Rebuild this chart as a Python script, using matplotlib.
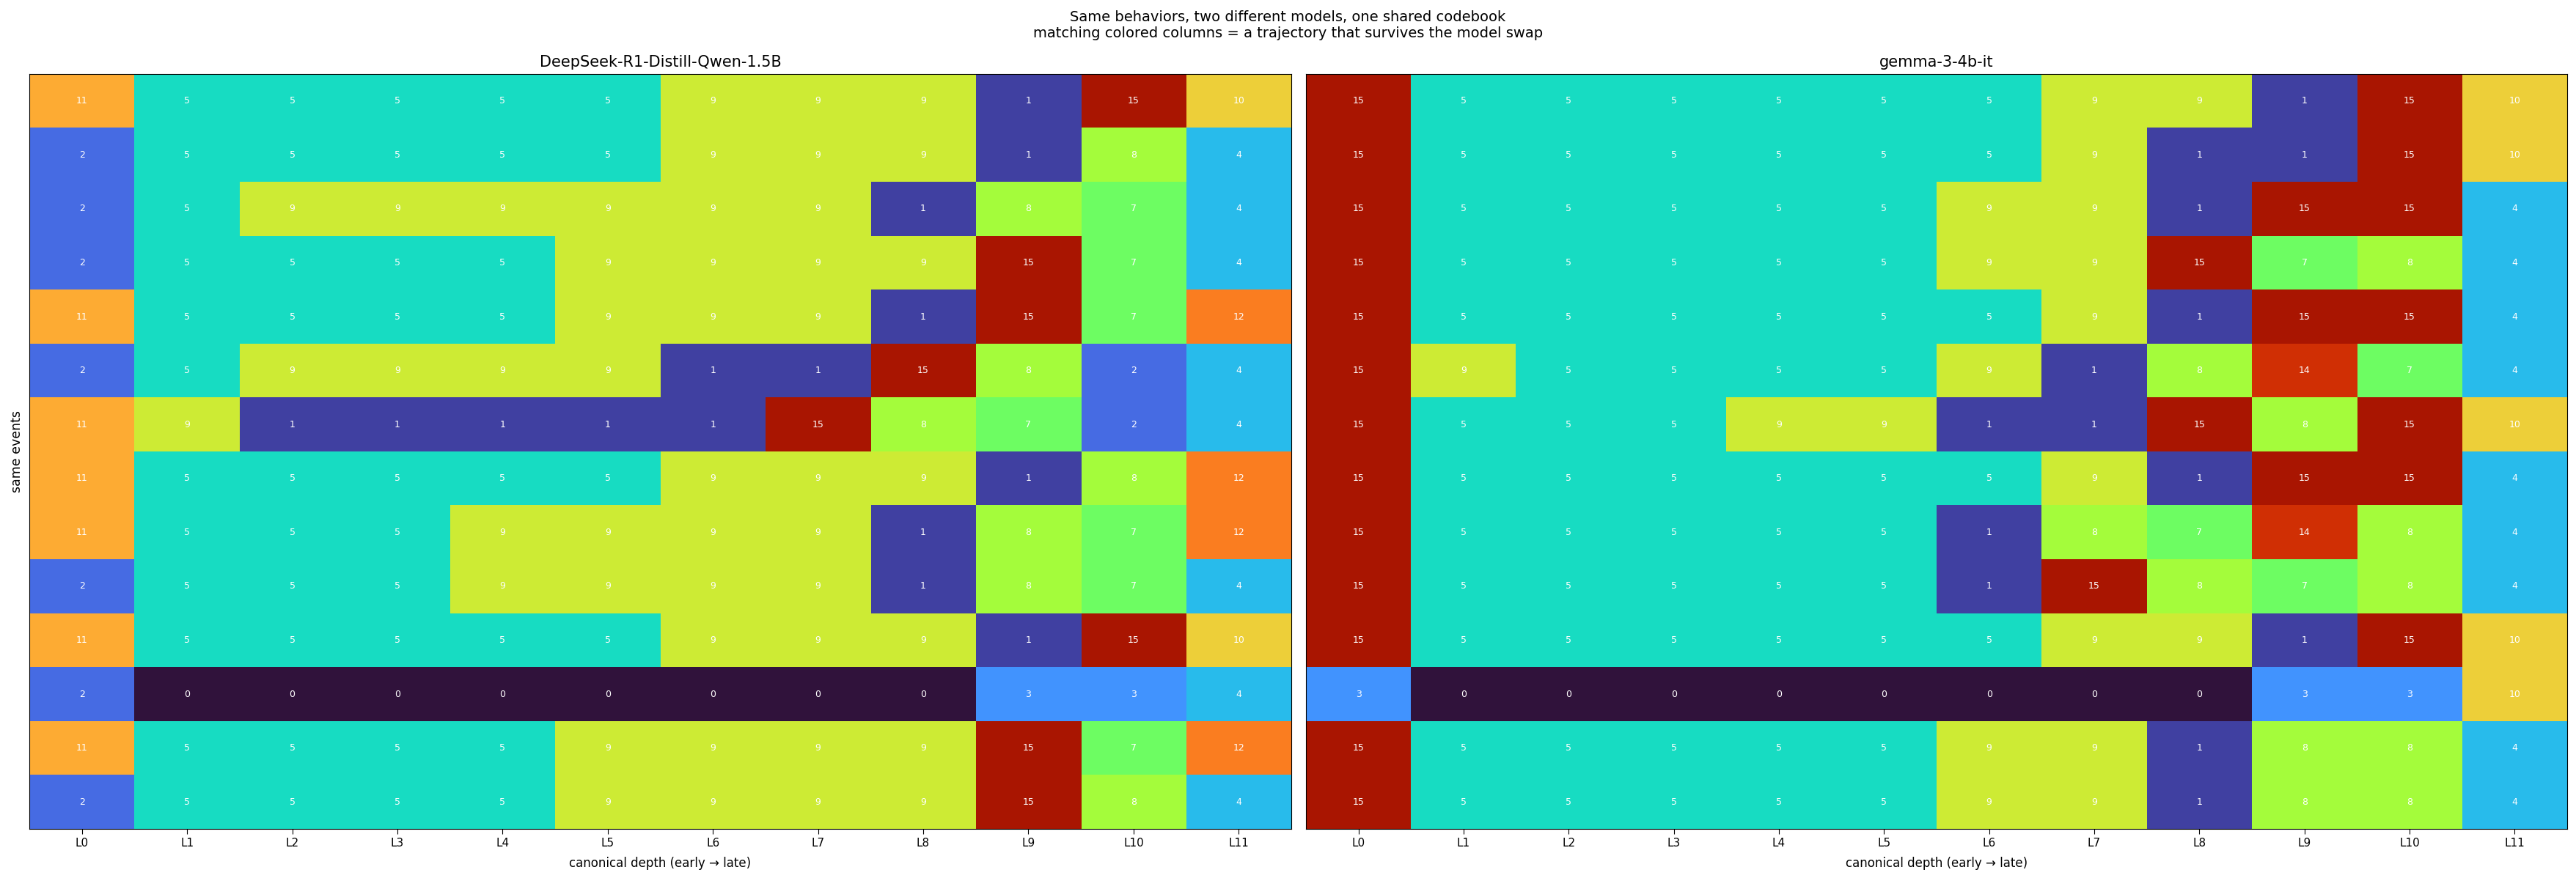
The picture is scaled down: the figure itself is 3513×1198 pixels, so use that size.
import numpy as np
import matplotlib
matplotlib.use("Agg")
import matplotlib.pyplot as plt

layers = ["L0", "L1", "L2", "L3", "L4", "L5", "L6", "L7", "L8", "L9", "L10", "L11"]
model_a = "DeepSeek-R1-Distill-Qwen-1.5B"
model_b = "gemma-3-4b-it"

codes_a = [
    [11, 5, 5, 5, 5, 5, 9, 9, 9, 1, 15, 10],
    [2, 5, 5, 5, 5, 5, 9, 9, 9, 1, 8, 4],
    [2, 5, 9, 9, 9, 9, 9, 9, 1, 8, 7, 4],
    [2, 5, 5, 5, 5, 9, 9, 9, 9, 15, 7, 4],
    [11, 5, 5, 5, 5, 9, 9, 9, 1, 15, 7, 12],
    [2, 5, 9, 9, 9, 9, 1, 1, 15, 8, 2, 4],
    [11, 9, 1, 1, 1, 1, 1, 15, 8, 7, 2, 4],
    [11, 5, 5, 5, 5, 5, 9, 9, 9, 1, 8, 12],
    [11, 5, 5, 5, 9, 9, 9, 9, 1, 8, 7, 12],
    [2, 5, 5, 5, 9, 9, 9, 9, 1, 8, 7, 4],
    [11, 5, 5, 5, 5, 5, 9, 9, 9, 1, 15, 10],
    [2, 0, 0, 0, 0, 0, 0, 0, 0, 3, 3, 4],
    [11, 5, 5, 5, 5, 9, 9, 9, 9, 15, 7, 12],
    [2, 5, 5, 5, 5, 9, 9, 9, 9, 15, 8, 4],
]

codes_b = [
    [15, 5, 5, 5, 5, 5, 5, 9, 9, 1, 15, 10],
    [15, 5, 5, 5, 5, 5, 5, 9, 1, 1, 15, 10],
    [15, 5, 5, 5, 5, 5, 9, 9, 1, 15, 15, 4],
    [15, 5, 5, 5, 5, 5, 9, 9, 15, 7, 8, 4],
    [15, 5, 5, 5, 5, 5, 5, 9, 1, 15, 15, 4],
    [15, 9, 5, 5, 5, 5, 9, 1, 8, 14, 7, 4],
    [15, 5, 5, 5, 9, 9, 1, 1, 15, 8, 15, 10],
    [15, 5, 5, 5, 5, 5, 5, 9, 1, 15, 15, 4],
    [15, 5, 5, 5, 5, 5, 1, 8, 7, 14, 8, 4],
    [15, 5, 5, 5, 5, 5, 1, 15, 8, 7, 8, 4],
    [15, 5, 5, 5, 5, 5, 5, 9, 9, 1, 15, 10],
    [3, 0, 0, 0, 0, 0, 0, 0, 0, 3, 3, 10],
    [15, 5, 5, 5, 5, 5, 9, 9, 1, 8, 8, 4],
    [15, 5, 5, 5, 5, 5, 9, 9, 1, 8, 8, 4],
]

W, H = 3513, 1198
fig = plt.figure(figsize=(W / 100, H / 100), dpi=100)

ax_left = fig.add_axes([40 / W, (H - 1131) / H, 1721 / W, 1030 / H])
ax_right = fig.add_axes([1781 / W, (H - 1131) / H, 1720 / W, 1030 / H])

for ax, data, name in [(ax_left, codes_a, model_a), (ax_right, codes_b, model_b)]:
    arr = np.array(data)
    ax.imshow(arr, cmap="turbo", vmin=0, vmax=16, aspect="auto", interpolation="nearest")
    for i in range(arr.shape[0]):
        for j in range(arr.shape[1]):
            ax.text(j, i, str(arr[i, j]), ha="center", va="center", color="white", fontsize=9)
    ax.set_xticks(range(len(layers)))
    ax.set_xticklabels(layers)
    ax.tick_params(axis="x", labelsize=11, length=5)
    ax.set_yticks([])
    ax.set_title(name, fontsize=15, pad=7)
    ax.set_xlabel("canonical depth (early \u2192 late)", fontsize=12, labelpad=8)

ax_left.set_ylabel("same events", fontsize=12.5, labelpad=6)

fig.suptitle("Same behaviors, two different models, one shared codebook\n"
             "matching colored columns = a trajectory that survives the model swap",
             fontsize=14, y=1 - 14 / H, va="top")

fig.savefig("out.png", dpi=100)
